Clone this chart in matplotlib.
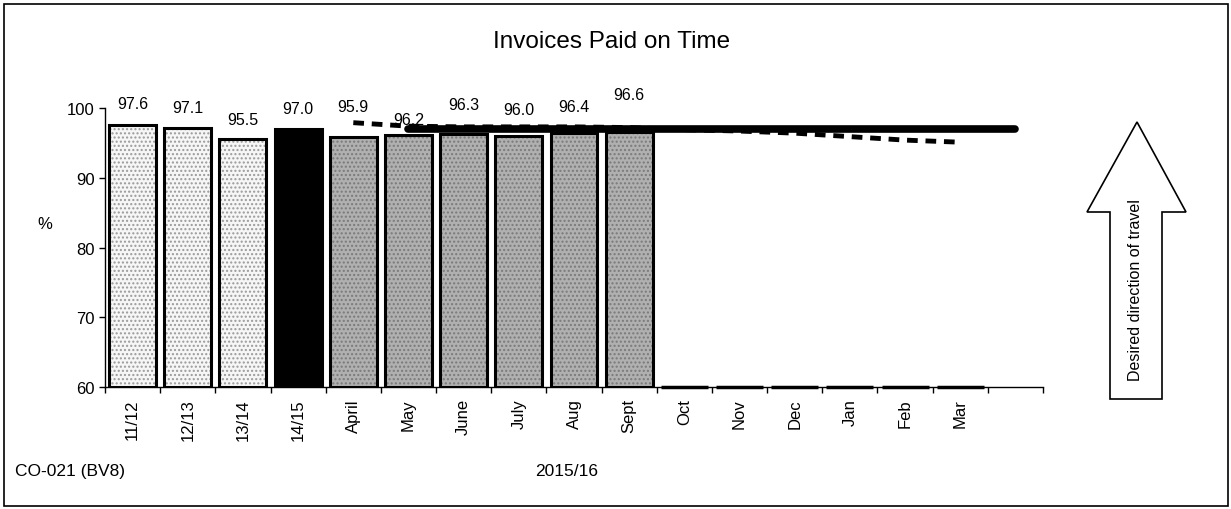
import numpy as np
import matplotlib
matplotlib.use("Agg")
import matplotlib.pyplot as plt
from matplotlib.patches import Polygon, Rectangle

plt.rcParams['font.family'] = ['Liberation Sans', 'DejaVu Sans']

# data
categories = ["11/12", "12/13", "13/14", "14/15", "April", "May", "June", "July",
              "Aug", "Sept", "Oct", "Nov", "Dec", "Jan", "Feb", "Mar", ""]
values = [97.6, 97.1, 95.5, 97.0, 95.9, 96.2, 96.3, 96.0, 96.4, 96.6,
          None, None, None, None, None, None, None]
target = [None] * 5 + [97.0] * 12
trend = [None] * 4 + [97.9, 97.4, 97.3, 97.3, 97.3, 97.2,
                      96.9, 96.7, 96.4, 95.9, 95.4, 95.1] + [None]

# how far each value label sits above its bar (points)
label_offsets = [15, 14.6, 14, 14.4, 21.4, 10.5, 20.8, 18.7, 18.9, 26.5]

fig = plt.figure(figsize=(12.31, 5.10), dpi=100)
ax = fig.add_axes([0.0853, 0.2392, 0.762, 0.547])

x = np.arange(len(categories))
bar_w = 0.85
ymin, ymax = 60, 100

# fill styles: previous years light dotted, last year black, months grey stipple
styles = []
for i in range(len(categories)):
    if i < 3:
        styles.append(("#f6f6f6", "#9a9a9a", "...."))
    elif i == 3:
        styles.append(("black", "black", None))
    else:
        styles.append(("#b0b0b0", "#7a7a7a", "...."))

for i, v in enumerate(values):
    if v is None:
        continue
    fc, hc, hatch = styles[i]
    ax.bar(x[i], v - ymin, bottom=ymin, width=bar_w, color=fc,
           edgecolor=hc, hatch=hatch, linewidth=0, zorder=2)
    ax.bar(x[i], v - ymin, bottom=ymin, width=bar_w, fill=False,
           edgecolor="black", linewidth=2.2, zorder=3)
    ax.annotate(f"{v:.1f}", (x[i], v), xytext=(0, label_offsets[i]),
                textcoords="offset points", ha="center", va="center",
                fontsize=11.5, zorder=6)

# empty months show as flat bars on the baseline
for i, c in enumerate(categories):
    if values[i] is None and c:
        ax.hlines(ymin, x[i] - bar_w / 2, x[i] + bar_w / 2, color="black",
                  linewidth=2.5, clip_on=False, zorder=4)

tx = [i for i, t in enumerate(target) if t is not None]
ax.plot(tx, [target[i] for i in tx], color="black", linewidth=5.5,
        solid_capstyle="round", zorder=4)
dx = [i for i, t in enumerate(trend) if t is not None]
ax.plot(dx, [trend[i] for i in dx], color="black", linewidth=3.5,
        linestyle=(0, (2.2, 1.6)), zorder=5)

ax.set_xlim(-0.5, len(categories) - 0.5)
ax.set_ylim(ymin, ymax)
ax.set_yticks([60, 70, 80, 90, 100])
ax.tick_params(axis="y", labelsize=12, length=4, width=1, direction="out")

ax.set_xticks(np.arange(len(categories) + 1) - 0.5)
ax.set_xticklabels([])
ax.set_xticks(x, minor=True)
ax.set_xticklabels(categories, minor=True, rotation=90, fontsize=12)
ax.tick_params(axis="x", which="major", length=4, width=1, direction="out")
ax.tick_params(axis="x", which="minor", length=0, pad=8)

for s in ["top", "right"]:
    ax.spines[s].set_visible(False)
ax.spines["left"].set_linewidth(1)
ax.spines["bottom"].set_linewidth(1)

ax.set_ylabel("%", rotation=0, fontsize=12)
ax.yaxis.set_label_coords(-0.064, 0.56)

fig.text(0.497, 0.918, "Invoices Paid on Time", ha="center", va="center", fontsize=17.5)
fig.text(0.012, 0.075, "CO-021 (BV8)", ha="left", va="center", fontsize=12.5)
fig.text(0.46, 0.075, "2015/16", ha="center", va="center", fontsize=12.5)

# desired direction arrow (pixel layout converted to figure fraction)
W, H = 1231, 510
arrow_px = [(1137, 123), (1186, 213), (1162, 213), (1162, 400),
            (1110, 400), (1110, 213), (1087, 213)]
fig.add_artist(Polygon([(px / W, 1 - py / H) for px, py in arrow_px],
                       closed=True, facecolor="white", edgecolor="black",
                       linewidth=1.2, transform=fig.transFigure))
fig.text(1136 / W, 1 - 290 / H, "Desired direction of travel", rotation=90,
         ha="center", va="center", fontsize=11.5)

# outer frame
fig.add_artist(Rectangle((4 / W, 3 / H), 1224 / W, 502 / H, fill=False,
                         edgecolor="black", linewidth=1.2,
                         transform=fig.transFigure))

fig.savefig("out.png", dpi=100)
